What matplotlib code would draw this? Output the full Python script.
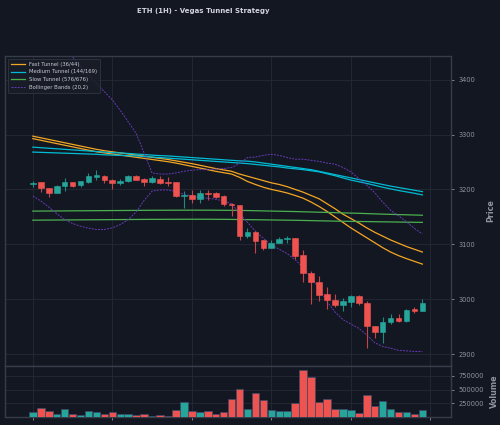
import numpy as np
import matplotlib
matplotlib.use('Agg')
import matplotlib.pyplot as plt

# OHLC (1H candles)
opens = [3209, 3213, 3202, 3194, 3206, 3213, 3208, 3213, 3222, 3225,
         3218, 3212, 3215, 3224, 3219, 3213, 3219, 3214, 3213, 3188,
         3190, 3182, 3193, 3193, 3188, 3174, 3171, 3116, 3123, 3107,
         3094, 3103, 3109, 3111, 3080, 3047, 3032, 3010, 2999, 2990,
         2995, 3006, 2993, 2951, 2940, 2959, 2965, 2960, 2982, 2979]
highs = [3215, 3214, 3203, 3208, 3221, 3214, 3216, 3230, 3235, 3226,
         3219, 3219, 3226, 3226, 3220, 3224, 3225, 3223, 3214, 3197,
         3199, 3199, 3199, 3195, 3189, 3175, 3172, 3130, 3124, 3108,
         3108, 3113, 3115, 3112, 3089, 3051, 3043, 3023, 3010, 3002,
         3007, 3007, 2996, 2952, 2968, 2973, 2974, 2983, 2985, 3001]
lows = [3204, 3196, 3186, 3193, 3197, 3205, 3205, 3212, 3218, 3212,
        3201, 3208, 3213, 3217, 3207, 3212, 3210, 3207, 3187, 3166,
        3176, 3176, 3180, 3184, 3169, 3151, 3108, 3111, 3084, 3089,
        3093, 3102, 3102, 3073, 3032, 2992, 2997, 2983, 2985, 2979,
        2985, 2990, 2911, 2930, 2920, 2955, 2958, 2959, 2975, 2978]
closes = [3211, 3202, 3194, 3207, 3214, 3207, 3215, 3224, 3226, 3218,
          3212, 3216, 3224, 3218, 3213, 3220, 3212, 3212, 3188, 3190,
          3182, 3193, 3191, 3187, 3174, 3172, 3116, 3123, 3106, 3094,
          3103, 3110, 3111, 3078, 3048, 3031, 3008, 2998, 2990, 2996,
          3006, 2993, 2951, 2940, 2959, 2965, 2960, 2980, 2979, 2994]
volumes = [102000, 161000, 113000, 54000, 143000, 54000, 42000, 119000, 101000, 65000,
           95000, 54000, 54000, 36000, 54000, 24000, 48000, 24000, 137000, 280000,
           113000, 89000, 113000, 54000, 101000, 333000, 512000, 155000, 441000, 304000,
           130000, 120000, 110000, 250000, 845000, 727000, 280000, 339000, 143000, 143000,
           131000, 71000, 399000, 202000, 286000, 155000, 95000, 101000, 65000, 137000]

# Vegas tunnel EMAs and Bollinger bands
ema36 = [3292.5, 3289.5, 3286.5, 3283.5, 3280.5, 3277.5, 3274.5, 3271.5, 3268.5, 3266.5,
         3264.5, 3262.5, 3260.5, 3258.5, 3256.5, 3254.5, 3252.5, 3250.5, 3248, 3245,
         3242, 3239, 3236, 3233, 3230.5, 3228, 3222, 3214.5, 3209, 3204,
         3200, 3197, 3193.5, 3189, 3184, 3177, 3169, 3160, 3150, 3140,
         3130, 3121, 3112, 3103, 3094, 3086, 3079.5, 3074, 3069, 3064]
ema44 = [3297, 3294, 3291, 3288, 3285, 3282, 3279, 3276, 3273, 3270.5,
         3268.5, 3266.5, 3264.5, 3262.5, 3260.5, 3258.5, 3256.5, 3254.5, 3252, 3249.5,
         3247, 3244, 3241, 3238, 3235.5, 3233, 3228, 3224, 3220, 3216,
         3212, 3209, 3205, 3200, 3195, 3189, 3183, 3174, 3165, 3155,
         3147, 3139, 3130, 3122, 3115, 3108, 3102, 3096, 3091, 3086]
ema144 = [3268, 3267.5, 3267, 3266.5, 3266, 3265.5, 3265, 3264.5, 3264, 3263,
          3262.5, 3262, 3261.5, 3261, 3260, 3259, 3258, 3257, 3256, 3255,
          3254, 3253, 3252, 3251, 3250, 3249, 3248, 3247, 3245.5, 3244,
          3242.5, 3241, 3239, 3237.5, 3236, 3234, 3232, 3228.5, 3225, 3221,
          3217, 3214, 3211, 3207.5, 3204, 3201, 3198, 3195.5, 3193, 3190]
ema169 = [3277, 3276, 3275, 3274, 3273, 3272, 3271, 3270, 3269, 3268,
          3267, 3266.5, 3265.5, 3264.5, 3263.5, 3262.5, 3261.5, 3261, 3260, 3259,
          3258, 3257, 3256, 3255, 3254, 3253, 3252, 3251.5, 3250, 3248,
          3246, 3244, 3242, 3240, 3238, 3236, 3233, 3230, 3227, 3224,
          3221, 3218, 3215, 3212, 3209, 3206, 3203.5, 3201, 3198.5, 3196]
ema576 = [3160.5, 3160.6, 3160.7, 3160.8, 3160.9, 3161, 3161.1, 3161.2, 3161.3, 3161.4,
          3161.5, 3161.6, 3161.7, 3161.8, 3161.9, 3162, 3162, 3162.1, 3162.1, 3162.2,
          3162.2, 3162.2, 3162.2, 3162.1, 3162, 3161.9, 3161.7, 3161.5, 3161.2, 3160.9,
          3160.6, 3160.3, 3160, 3159.7, 3159.3, 3158.9, 3158.5, 3158.1, 3157.7, 3157.3,
          3156.9, 3156.5, 3156, 3155.5, 3155, 3154.6, 3154.2, 3153.8, 3153.4, 3153]
ema676 = [3144, 3144.1, 3144.2, 3144.3, 3144.4, 3144.5, 3144.6, 3144.7, 3144.8, 3144.9,
          3145, 3145.1, 3145.2, 3145.3, 3145.4, 3145.5, 3145.5, 3145.6, 3145.6, 3145.7,
          3145.7, 3145.7, 3145.7, 3145.6, 3145.5, 3145.4, 3145.2, 3145, 3144.8, 3144.6,
          3144.4, 3144.2, 3144, 3143.8, 3143.5, 3143.2, 3142.9, 3142.6, 3142.3, 3142,
          3141.8, 3141.6, 3141.4, 3141.2, 3141, 3140.8, 3140.6, 3140.4, 3140.2, 3140]
bb_upper = [3520, 3505, 3490, 3474, 3458, 3441, 3424, 3408, 3393, 3378,
            3363, 3344, 3323, 3302, 3266, 3230, 3228, 3228, 3230, 3233,
            3235, 3236, 3236, 3237, 3238, 3240, 3247, 3258, 3259, 3262,
            3264, 3262, 3258, 3255, 3255, 3253, 3251, 3248, 3246, 3240,
            3232, 3220, 3208, 3194, 3177, 3162, 3152, 3141, 3129, 3119]
bb_lower = [3188, 3179, 3168, 3156, 3145, 3138, 3133, 3129.5, 3127, 3127,
            3130, 3136, 3145, 3159, 3180, 3197, 3199, 3199, 3196, 3191,
            3188, 3185, 3184, 3182, 3179, 3174, 3156, 3140, 3124, 3111,
            3099, 3091, 3083, 3072, 3058, 3040, 3020, 2996, 2977, 2963,
            2955, 2947, 2935, 2921, 2914, 2911, 2907, 2906, 2905, 2905]

BG = '#131722'
GRID = '#252a36'
SPINE = '#363c4a'
TXT = '#8f949e'
UP = '#26a69a'
DOWN = '#ef5350'

o = np.array(opens); h = np.array(highs); l = np.array(lows); c = np.array(closes)
x = np.arange(len(c))
up = c >= o
cols = np.where(up, UP, DOWN)
wick_cols = np.where(up, '#1f8a80', '#c4454a')

fig = plt.figure(figsize=(5, 4.25), dpi=100, facecolor=BG)
ax = fig.add_axes([0.01, 0.1395, 0.892, 0.7288], facecolor=BG)
axv = fig.add_axes([0.01, 0.0181, 0.892, 0.1214], facecolor=BG, sharex=ax)

# candles
ax.vlines(x, l, h, color=wick_cols, linewidth=0.8, zorder=3)
body = np.maximum(np.abs(c - o), 1.2)
ax.bar(x, body, bottom=np.minimum(o, c), width=0.72, color=cols, edgecolor=cols,
       linewidth=0.4, zorder=4)

# tunnels
ax.plot(x, ema36, color='#f5a623', lw=0.9, label='Fast Tunnel (36/44)', zorder=2)
ax.plot(x, ema44, color='#f5a623', lw=0.9, zorder=2)
ax.plot(x, ema144, color='#00bcd4', lw=0.9, label='Medium Tunnel (144/169)', zorder=2)
ax.plot(x, ema169, color='#00bcd4', lw=0.9, zorder=2)
ax.plot(x, ema576, color='#4caf50', lw=0.9, label='Slow Tunnel (576/676)', zorder=2)
ax.plot(x, ema676, color='#4caf50', lw=0.9, zorder=2)
ax.plot(x, bb_upper, color='#673ab7', lw=0.7, ls='--', dashes=(2, 1.2), label='Bollinger Bands (20,2)', zorder=2)
ax.plot(x, bb_lower, color='#673ab7', lw=0.7, ls='--', dashes=(2, 1.2), zorder=2)

# volume
axv.bar(x, volumes, width=0.95, color=cols, edgecolor='#3b4a6b', linewidth=0.5, zorder=3)

ax.set_xlim(-3.5, 52.6)
ax.set_ylim(2879, 3443)
axv.set_ylim(0, 930000)

for a in (ax, axv):
    a.yaxis.tick_right()
    a.yaxis.set_label_position('right')
    a.tick_params(colors=TXT, labelsize=4.8, length=2, width=0.6)
    a.grid(True, color=GRID, linewidth=0.6)
    a.set_axisbelow(True)
    for s in a.spines.values():
        s.set_color(SPINE)
        s.set_linewidth(1.0)

ax.set_yticks([2900, 3000, 3100, 3200, 3300, 3400])
axv.set_yticks([250000, 500000, 750000])
axv.set_xticks([0, 10, 20, 30, 40, 50])
ax.tick_params(axis='x', labelbottom=False, length=0)
axv.tick_params(axis='x', labelbottom=False)

ax.set_ylabel('Price', color=TXT, fontsize=5.8, fontweight='bold', labelpad=8)
axv.set_ylabel('Volume', color=TXT, fontsize=5.8, fontweight='bold', labelpad=4)

leg = ax.legend(loc='upper left', fontsize=3.8, facecolor='#1a1e29', edgecolor=SPINE,
                framealpha=0.8, labelcolor='#c8cbd2', handlelength=2.6, borderpad=0.6,
                labelspacing=0.5)
leg.get_frame().set_linewidth(0.6)

fig.text(0.406, 0.981, 'ETH (1H) - Vegas Tunnel Strategy', color='#d1d4dc',
         fontsize=5, fontweight='bold', ha='center', va='top')

fig.savefig('out.png', dpi=100, facecolor=BG)
